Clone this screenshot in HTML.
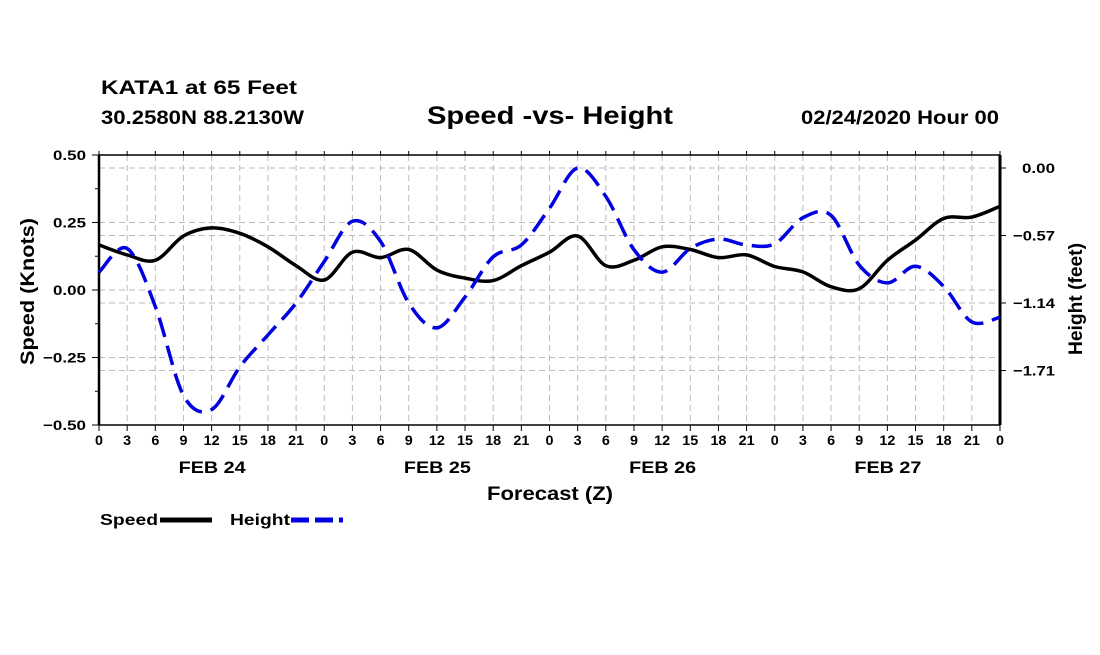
<!DOCTYPE html>
<html><head><meta charset="utf-8"><style>
body{margin:0;background:#fff;}
svg text{font-family:"Liberation Sans",Arial,sans-serif;font-weight:bold;fill:#000;}
</style></head><body>
<svg id="chart" width="1100" height="650" viewBox="0 0 1100 650" xmlns="http://www.w3.org/2000/svg">
<text x="101" y="94" font-size="19" textLength="196" lengthAdjust="spacingAndGlyphs">KATA1 at 65 Feet</text>
<text x="101" y="124" font-size="19" textLength="203" lengthAdjust="spacingAndGlyphs">30.2580N 88.2130W</text>
<text x="427" y="124" font-size="25" textLength="246" lengthAdjust="spacingAndGlyphs">Speed -vs- Height</text>
<text x="801" y="124" font-size="19" textLength="198" lengthAdjust="spacingAndGlyphs">02/24/2020 Hour 00</text>
<g id="grid"></g>
<g id="axes"></g>
<g id="series"></g>
<text transform="translate(34,365) rotate(-90)" font-size="19" textLength="147" lengthAdjust="spacingAndGlyphs">Speed (Knots)</text>
<text transform="translate(1082,355) rotate(-90)" font-size="19" textLength="112" lengthAdjust="spacingAndGlyphs">Height (feet)</text>
<text x="487" y="500" font-size="19" textLength="126" lengthAdjust="spacingAndGlyphs">Forecast (Z)</text>
<g>
<text x="100" y="525" font-size="16" textLength="58" lengthAdjust="spacingAndGlyphs">Speed</text>
<line x1="160" y1="520" x2="212" y2="520" stroke="#000" stroke-width="5"/>
<text x="230" y="525" font-size="16" textLength="60" lengthAdjust="spacingAndGlyphs">Height</text>
<line x1="291" y1="520" x2="343" y2="520" stroke="#0000e0" stroke-width="5" stroke-dasharray="18,6"/>
</g>
</svg>
<script>
const hours=[0,3,6,9,12,15,18,21,24,27,30,33,36,39,42,45,48,51,54,57,60,63,66,69,72,75,78,81,84,87,90,93,96];
const speedVals=[0.167,0.13,0.11,0.20,0.23,0.21,0.16,0.09,0.037,0.14,0.12,0.15,0.074,0.044,0.035,0.09,0.14,0.20,0.09,0.11,0.16,0.15,0.12,0.13,0.087,0.067,0.012,0.005,0.11,0.185,0.265,0.27,0.31];
const heightVals=[-0.88,-0.68,-1.17,-1.92,-2.04,-1.68,-1.41,-1.14,-0.79,-0.45,-0.62,-1.14,-1.35,-1.09,-0.75,-0.65,-0.34,0.0,-0.24,-0.69,-0.88,-0.68,-0.60,-0.65,-0.64,-0.42,-0.40,-0.82,-0.97,-0.83,-1.00,-1.30,-1.26];
const leftTicks=[0.50,0.25,0.00,-0.25,-0.50];
const leftTickLabels=["0.50","0.25","0.00","\u22120.25","\u22120.50"];
const rightTicks=[0,-0.57,-1.14,-1.71];
const rightTickLabels=["0.00","\u22120.57","\u22121.14","\u22121.71"];
const xTickHours=[0,3,6,9,12,15,18,21,24,27,30,33,36,39,42,45,48,51,54,57,60,63,66,69,72,75,78,81,84,87,90,93,96];
const dayLabels=["FEB 24","FEB 25","FEB 26","FEB 27"];

const L=99,R=1000,T=155,B=425;
const xS=h=>L+(R-L)*h/96;
const yL=v=>290-v*270;
const yR=v=>168-v*(67.5/0.57);
const NS="http://www.w3.org/2000/svg";
function mk(tag,attrs,parent){const e=document.createElementNS(NS,tag);for(const k in attrs)e.setAttribute(k,attrs[k]);parent.appendChild(e);return e;}
const grid=document.getElementById('grid'),axes=document.getElementById('axes'),series=document.getElementById('series');
xTickHours.forEach((h,i)=>{
  const x=xS(h);
  if(i>0&&i<xTickHours.length-1){const g=mk('line',{x1:x,y1:T,x2:x,y2:B,stroke:'#bbb','stroke-dasharray':'6,4'},grid);
  
  }
  mk('line',{x1:x,y1:B,x2:x,y2:B+6,stroke:'#000'},axes);
  mk('line',{x1:x,y1:T-4,x2:x,y2:T,stroke:'#000'},axes);
  const lab=String(h%24);
  const t=mk('text',{x:x,y:B+20,'font-size':14,'text-anchor':'middle',textLength:lab.length*8,lengthAdjust:'spacingAndGlyphs'},axes);
  t.textContent=lab;
  
  
});
dayLabels.forEach((d,i)=>{
  const t=mk('text',{x:xS(i*24+12)-33,y:B+48,'font-size':17,textLength:67,lengthAdjust:'spacingAndGlyphs'},axes);
  t.textContent=d;
  
  
});
leftTicks.forEach((v,i)=>{
  const y=yL(v);
  if(i>0&&i<leftTicks.length-1){const g=mk('line',{x1:L,y1:y,x2:R,y2:y,stroke:'#bbb','stroke-dasharray':'6,4'},grid);
  
  }
  mk('line',{x1:L-7,y1:y,x2:L,y2:y,stroke:'#000'},axes);
  const lab=leftTickLabels[i];
  const w=lab.length>4?43:33;
  const t=mk('text',{x:86-w,y:y+5,'font-size':14,textLength:w,lengthAdjust:'spacingAndGlyphs'},axes);
  t.textContent=lab;
  
  
});
for(let k=1;k<8;k+=2){const y=yL(0.5-k*0.125);mk('line',{x1:L-4,y1:y,x2:L,y2:y,stroke:'#000'},axes);}
rightTicks.forEach((v,i)=>{
  const y=yR(v);
  const g=mk('line',{x1:L,y1:y,x2:R,y2:y,stroke:'#bbb','stroke-dasharray':'6,4'},grid);
  
  
  mk('line',{x1:R,y1:y,x2:R+6,y2:y,stroke:'#000'},axes);
  const lab=rightTickLabels[i];
  const w=lab.length>4?42:33;
  const t=mk('text',{x:1055-w,y:y+5,'font-size':14,textLength:w,lengthAdjust:'spacingAndGlyphs'},axes);
  t.textContent=lab;
  
  
});
mk('line',{x1:L,y1:T,x2:R,y2:T,stroke:'#000','stroke-width':1.5},axes);
mk('line',{x1:L,y1:B,x2:R,y2:B,stroke:'#000','stroke-width':1.5},axes);
mk('line',{x1:L,y1:T,x2:L,y2:B,stroke:'#000','stroke-width':2.5},axes);
mk('line',{x1:R,y1:T,x2:R,y2:B,stroke:'#000','stroke-width':3},axes);
function smooth(pts){
  let d=`M${pts[0][0]},${pts[0][1]}`;
  for(let i=0;i<pts.length-1;i++){
    const p0=pts[i-1]||pts[i],p1=pts[i],p2=pts[i+1],p3=pts[i+2]||p2;
    d+=` C${p1[0]+(p2[0]-p0[0])/6},${p1[1]+(p2[1]-p0[1])/6} ${p2[0]-(p3[0]-p1[0])/6},${p2[1]-(p3[1]-p1[1])/6} ${p2[0]},${p2[1]}`;
  }
  return d;
}
const sp=mk('path',{d:smooth(hours.map((h,i)=>[xS(h),yL(speedVals[i])])),fill:'none',stroke:'#000','stroke-width':3.5},series);


const hp=mk('path',{d:smooth(hours.map((h,i)=>[xS(h),yR(heightVals[i])])),fill:'none',stroke:'#0000e0','stroke-width':3.5,'stroke-dasharray':'20,9'},series);


</script>
</body></html>
